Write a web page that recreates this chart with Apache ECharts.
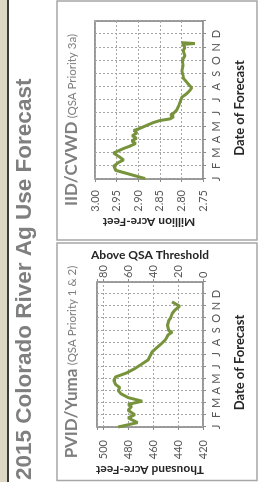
<!DOCTYPE html>
<html>
<head>
<meta charset="utf-8">
<script src="https://cdn.jsdelivr.net/npm/echarts@6/dist/echarts.min.js"></script>
<style>
  html, body { margin: 0; padding: 0; background: #fff; overflow: hidden; }
  /* chart is laid out landscape, then turned on its side like the source */
  #chart { position: absolute; left: 0; top: 0; width: 482px; height: 264px;
           transform-origin: 0 0; transform: translateY(482px) rotate(-90deg); }
</style>
</head>
<body>
<div id="chart"></div>
<script>
// month letters on the date axis
var monthLetters = ['J', 'F', 'M', 'A', 'M', 'J', 'J', 'A', 'S', 'O', 'N', 'D'];

// PVID/Yuma forecast, day of year 2015 -> thousand acre-feet
var pvidDays = [0, 11, 23, 31, 42, 52, 57, 65, 74, 84, 92, 99, 107, 117, 126, 136, 147, 158, 169, 189, 199, 210, 220, 232, 239, 243, 256, 268, 275, 285, 294, 304, 310, 315];
var pvidValues = [488, 472.5, 480, 474.7, 480, 477.3, 480, 468.8, 480, 485.9, 488, 486.7, 490.1, 491.5, 490.1, 481.3, 474.7, 469.3, 464, 460.8, 457.3, 453.3, 450.1, 448, 444.8, 447.5, 448.5, 447.5, 445.9, 444.8, 442.7, 438.7, 442.1, 444.8];

// IID/CVWD forecast, day of year 2015 -> million acre-feet
var iidDays = [1, 20, 30, 38, 44, 52, 60, 70, 76, 82, 88, 94, 100, 106, 112, 117, 124, 130, 135, 139, 144, 148, 152, 159, 170, 178, 189, 197, 205, 211, 218, 224, 232, 239, 250, 262, 274, 285, 296, 304, 311, 313, 315];
var iidValues = [2.884, 2.952, 2.956, 2.946, 2.934, 2.945, 2.957, 2.935, 2.919, 2.906, 2.915, 2.904, 2.914, 2.903, 2.910, 2.896, 2.880, 2.866, 2.850, 2.826, 2.818, 2.825, 2.818, 2.811, 2.806, 2.803, 2.799, 2.788, 2.780, 2.776, 2.783, 2.788, 2.795, 2.796, 2.799, 2.796, 2.798, 2.792, 2.796, 2.792, 2.797, 2.769, 2.800];

var FONT = 'Lato, Calibri, sans-serif';
var MONTH = 365 / 12;
var GREEN = '#77933c';

function pairs(xs, ys) {
    return xs.map(function (x, i) { return [x, ys[i]]; });
}

function dateAxis(gridIndex, namePad) {
    return {
        type: 'value', gridIndex: gridIndex, min: 0, max: 365, interval: MONTH,
        axisLine: {show: false},
        axisTick: {show: true, length: 3, lineStyle: {color: '#8c8c8c'}},
        axisLabel: {
            margin: 8, fontSize: 11, color: '#595959', fontFamily: FONT,
            formatter: function (v) {
                var i = Math.round(v / MONTH);
                return i < 12 ? monthLetters[i] : '';
            }
        },
        splitLine: {show: true, lineStyle: {color: '#a6a6a6', type: [2, 2], width: 1}},
        name: 'Date of Forecast', nameLocation: 'middle', nameGap: 30,
        nameTextStyle: {fontSize: 13, fontWeight: 'bold', color: '#262626', fontFamily: FONT, padding: [0, namePad, 0, 0]}
    };
}

var axisNameStyle = {fontSize: 12, fontWeight: 'bold', color: '#262626', fontFamily: FONT};
var tickLabel = {fontSize: 11, color: '#595959', fontFamily: FONT};
var gridLine = {show: true, lineStyle: {color: '#a6a6a6', type: [2, 2], width: 1}};
var tick = {show: true, length: 3, lineStyle: {color: '#8c8c8c'}};

var chart = echarts.init(document.getElementById('chart'), null, {renderer: 'canvas'});

chart.setOption({
    animation: false,
    backgroundColor: '#fff',
    grid: [
        {left: 55, top: 97, width: 145, height: 106, show: true, borderColor: '#777', borderWidth: 1.5, outerBoundsMode: 'none'},
        {left: 303, top: 95, width: 158, height: 108, show: true, borderColor: '#777', borderWidth: 1.5, outerBoundsMode: 'none'}
    ],
    xAxis: [dateAxis(0, 16), dateAxis(1, 16)],
    yAxis: [
        {
            type: 'value', gridIndex: 0, position: 'left', min: 420, max: 505, interval: 20,
            axisLine: {show: false}, axisTick: tick, splitLine: gridLine,
            axisLabel: Object.assign({margin: 13, formatter: function (v) { return v % 20 === 0 ? v : ''; }}, tickLabel),
            name: 'Thousand Acre-Feet', nameLocation: 'middle', nameRotate: 90, nameGap: 37,
            nameTextStyle: axisNameStyle
        },
        {
            type: 'value', gridIndex: 0, position: 'right', min: 0, max: 85, interval: 20,
            axisLine: {show: false}, axisTick: tick, splitLine: {show: false},
            axisLabel: Object.assign({margin: 4, formatter: function (v) { return v % 20 === 0 ? v : ''; }}, tickLabel),
            name: 'Above QSA Threshold', nameLocation: 'middle', nameRotate: -90, nameGap: 21,
            nameTextStyle: axisNameStyle
        },
        {
            type: 'value', gridIndex: 1, position: 'left', min: 2.75, max: 3.0, interval: 0.05,
            axisLine: {show: false}, axisTick: tick, splitLine: gridLine,
            axisLabel: Object.assign({margin: 11, formatter: function (v) { return v.toFixed(2); }}, tickLabel),
            name: 'Million Acre-Feet', nameLocation: 'middle', nameRotate: 90, nameGap: 35,
            nameTextStyle: axisNameStyle
        }
    ],
    series: [
        {
            type: 'line', xAxisIndex: 0, yAxisIndex: 0, data: pairs(pvidDays, pvidValues),
            showSymbol: false, lineStyle: {color: GREEN, width: 3}
        },
        {
            type: 'line', xAxisIndex: 1, yAxisIndex: 2, data: pairs(iidDays, iidValues),
            showSymbol: false, lineStyle: {color: GREEN, width: 3}
        }
    ],
    graphic: [
        {type: 'rect', shape: {x: 0, y: 0, width: 482, height: 7.5}, style: {fill: '#dcd8c3'}, silent: true},
        {type: 'rect', shape: {x: 0, y: 7, width: 482, height: 2}, style: {fill: '#3b3b3b'}, silent: true},
        {
            type: 'text', x: 2, y: 25,
            style: {text: '2015 Colorado River Ag Use Forecast', font: 'bold 22.5px "Liberation Sans", Arial, sans-serif',
                    fill: '#7f7f7f', verticalAlign: 'middle'}
        },
        {type: 'rect', shape: {x: 1.5, y: 57, width: 237.5, height: 200}, style: {fill: 'none', stroke: '#a6a6a6', lineWidth: 1.5}},
        {type: 'rect', shape: {x: 242, y: 57, width: 239, height: 200}, style: {fill: 'none', stroke: '#a6a6a6', lineWidth: 1.5}},
        {
            type: 'text', x: 120, y: 72,
            style: {
                text: '{a|PVID/Yuma} {b|(QSA Priority 1 & 2)}', align: 'center', verticalAlign: 'middle',
                rich: {
                    a: {fontSize: 17, fontWeight: 'bold', fill: '#7f7f7f', fontFamily: FONT},
                    b: {fontSize: 11.5, fill: '#7f7f7f', fontFamily: FONT}
                }
            }
        },
        {
            type: 'text', x: 362, y: 72,
            style: {
                text: '{a|IID/CVWD} {b|(QSA Priority 3a)}', align: 'center', verticalAlign: 'middle',
                rich: {
                    a: {fontSize: 17, fontWeight: 'bold', fill: '#7f7f7f', fontFamily: FONT},
                    b: {fontSize: 11.5, fill: '#7f7f7f', fontFamily: FONT}
                }
            }
        }
    ]
});
</script>
</body>
</html>
